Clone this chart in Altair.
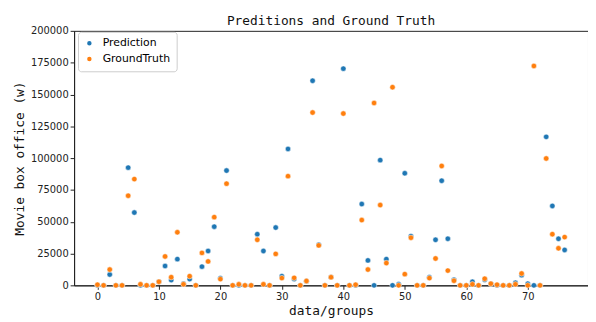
import altair as alt
import pandas as pd

groups = list(range(77))
prediction = [0, 0, 8500, 0, 0, 92500, 57200, 0, 0, 0,
              2800, 15200, 4100, 20600, 1300, 4900, 0, 14700, 27000, 46100,
              5700, 90200, 0, 0, 0, 0, 40200, 27000, 0, 45400,
              7200, 107200, 4900, 0, 3300, 160800, 32000, 0, 6400, 0,
              170300, 0, 0, 63900, 19600, 0, 98400, 20600, 0, 800,
              88100, 38700, 0, 0, 6400, 35800, 82200, 36600, 4400, 0,
              0, 2800, 0, 4400, 1300, 0, 0, 0, 2000, 8000,
              1300, 0, 0, 116700, 62400, 36600, 27800]
ground_truth = [500, 0, 12400, 0, 0, 70400, 83500, 800, 0, 0,
                2800, 22700, 6400, 41700, 800, 7200, 0, 25500, 18800, 53600,
                4900, 79900, 0, 800, 0, 0, 35800, 800, 0, 24700,
                5700, 85800, 5900, 0, 3400, 135800, 31400, 0, 6400, 0,
                135000, 0, 500, 51300, 12400, 143300, 63100, 17500, 155700, 0,
                8800, 37400, 0, 0, 5700, 21100, 93800, 11600, 3600, 0,
                0, 800, 0, 5200, 1300, 500, 0, 0, 800, 9300,
                0, 172400, 0, 99700, 40200, 29100, 37900]

series_names = ["Prediction", "GroundTruth"]
colors = ["#1f77b4", "#ff7f0e"]

rows = []
for name, vals in zip(series_names, [prediction, ground_truth]):
    for g, v in zip(groups, vals):
        rows.append({"group": g, "value": v, "series": name})
df = pd.DataFrame(rows)

chart = alt.Chart(df).mark_point(
    filled=True, size=30, opacity=1, stroke="white", strokeWidth=0.5
).encode(
    x=alt.X("group:Q", title="data/groups",
            scale=alt.Scale(domain=[-3.8, 79.8], nice=False, zero=False),
            axis=alt.Axis(values=list(range(0, 81, 10)), grid=False, tickSize=4,
                          labelFont="DejaVu Sans", labelFontSize=10, labelColor="#222",
                          titleFont="DejaVu Sans Mono", titleFontSize=13, titleFontWeight="normal",
                          titleColor="#111", domainColor="#222", tickColor="#222", labelFlush=False)),
    y=alt.Y("value:Q", title="Movie box office (w)",
            scale=alt.Scale(domain=[0, 200000], nice=False),
            axis=alt.Axis(values=list(range(0, 200001, 25000)), format="d", grid=False, tickSize=4,
                          labelFont="DejaVu Sans", labelFontSize=10, labelColor="#222",
                          titleFont="DejaVu Sans Mono", titleFontSize=13, titleFontWeight="normal",
                          titleColor="#111", domainColor="#222", tickColor="#222")),
    color=alt.Color("series:N", scale=alt.Scale(domain=series_names, range=colors),
                    legend=alt.Legend(title=None, orient="none", legendX=4, legendY=1,
                                      strokeColor="#ccc", cornerRadius=3, padding=6,
                                      fillColor="white", symbolType="circle", symbolSize=36,
                                      labelFont="DejaVu Sans", labelFontSize=11, rowPadding=3,
                                      labelOffset=8)),
    order=alt.Order("series_order:Q"),
).transform_calculate(
    series_order="datum.series == 'Prediction' ? 0 : 1"
).properties(
    width=521, height=258,
    title=alt.Title("Preditions and Ground Truth", font="DejaVu Sans Mono", fontSize=13,
                    fontWeight="normal", color="#111", offset=-2, frame="group", anchor="middle"),
    autosize=alt.AutoSizeParams(type="none"),
    padding={"left": 67, "top": 21, "right": 0, "bottom": 35},
).configure_view(stroke="#222", strokeWidth=1)

chart.save("out.html", embed_options={"renderer": "svg", "actions": False})
